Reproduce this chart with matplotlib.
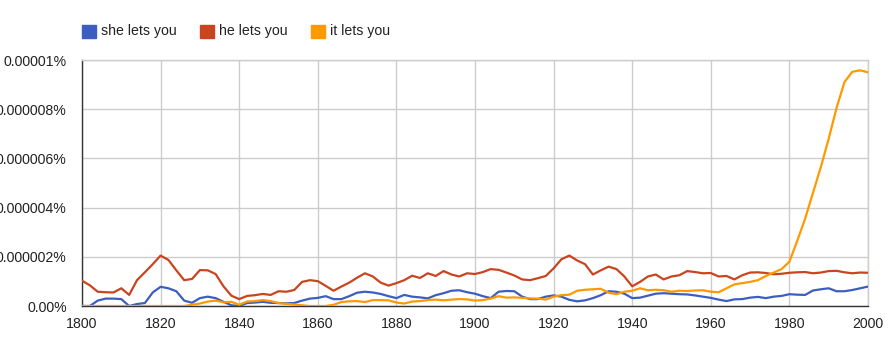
import matplotlib
matplotlib.use('Agg')
import matplotlib.pyplot as plt
from matplotlib.patches import Rectangle
import numpy as np

# values in units of 1e-6 percent, every two years 1800-2000
years = list(range(1800, 2001, 2))

she_lets_you = [
    0.00, 0.00, 0.22, 0.30, 0.30, 0.28, 0.00, 0.08, 0.12, 0.55,
    0.78, 0.72, 0.60, 0.22, 0.13, 0.32, 0.38, 0.32, 0.17, 0.03,
    0.00, 0.12, 0.14, 0.17, 0.13, 0.12, 0.11, 0.12, 0.22, 0.30,
    0.33, 0.40, 0.28, 0.28, 0.40, 0.54, 0.58, 0.55, 0.49, 0.40,
    0.32, 0.45, 0.38, 0.35, 0.31, 0.44, 0.52, 0.62, 0.64, 0.56,
    0.50, 0.40, 0.32, 0.58, 0.61, 0.60, 0.38, 0.28, 0.28, 0.38,
    0.43, 0.38, 0.25, 0.19, 0.23, 0.32, 0.44, 0.60, 0.58, 0.50,
    0.32, 0.34, 0.42, 0.50, 0.52, 0.50, 0.48, 0.47, 0.43, 0.38,
    0.33, 0.26, 0.20, 0.27, 0.28, 0.34, 0.37, 0.32, 0.38, 0.41,
    0.48, 0.46, 0.45, 0.63, 0.68, 0.72, 0.60, 0.60, 0.65, 0.72,
    0.79,
]

he_lets_you = [
    1.03, 0.84, 0.58, 0.56, 0.55, 0.72, 0.45, 1.05, 1.37, 1.70,
    2.05, 1.87, 1.45, 1.05, 1.10, 1.46, 1.45, 1.30, 0.80, 0.42,
    0.28, 0.41, 0.44, 0.49, 0.45, 0.60, 0.58, 0.65, 0.98, 1.05,
    1.01, 0.82, 0.62, 0.79, 0.95, 1.15, 1.33, 1.20, 0.95, 0.83,
    0.93, 1.05, 1.23, 1.14, 1.33, 1.22, 1.42, 1.28, 1.20, 1.33,
    1.30, 1.38, 1.50, 1.47, 1.36, 1.24, 1.08, 1.05, 1.13, 1.22,
    1.53, 1.90, 2.05, 1.85, 1.70, 1.28, 1.45, 1.60, 1.50, 1.20,
    0.80, 0.98, 1.20, 1.28, 1.08, 1.20, 1.25, 1.42, 1.38, 1.33,
    1.34, 1.20, 1.22, 1.08, 1.25, 1.36, 1.37, 1.34, 1.29, 1.31,
    1.35, 1.37, 1.38, 1.33, 1.36, 1.42, 1.43, 1.37, 1.33, 1.36,
    1.35,
]

it_lets_you = [
    0.00, 0.00, 0.00, 0.00, 0.00, 0.00, 0.00, 0.00, 0.00, 0.00,
    0.00, 0.00, 0.00, 0.00, 0.05, 0.10, 0.18, 0.22, 0.15, 0.17,
    0.05, 0.18, 0.20, 0.24, 0.20, 0.12, 0.09, 0.06, 0.03, 0.00,
    0.00, 0.00, 0.05, 0.16, 0.19, 0.20, 0.16, 0.24, 0.24, 0.23,
    0.14, 0.10, 0.18, 0.20, 0.24, 0.26, 0.23, 0.26, 0.28, 0.27,
    0.22, 0.24, 0.30, 0.40, 0.34, 0.35, 0.33, 0.31, 0.30, 0.26,
    0.38, 0.44, 0.46, 0.62, 0.66, 0.68, 0.70, 0.54, 0.48, 0.58,
    0.62, 0.72, 0.64, 0.66, 0.64, 0.58, 0.62, 0.61, 0.63, 0.64,
    0.58, 0.56, 0.72, 0.88, 0.93, 0.98, 1.05, 1.22, 1.36, 1.50,
    1.80, 2.65, 3.55, 4.60, 5.65, 6.80, 8.05, 9.10, 9.52, 9.58,
    9.50,
]

series_names = ['she lets you', 'he lets you', 'it lets you']
series_colors = ['#3B5EC0', '#C9451F', '#FF9900']

x_ticks = list(range(1800, 2001, 20))
y_ticks = [0, 2, 4, 6, 8, 10]
y_tick_labels = ['0.00%', '0.000002%', '0.000004%', '0.000006%', '0.000008%', '0.00001%']

plt.rcParams['font.family'] = ['Liberation Sans', 'DejaVu Sans']

W, H = 896, 344
fig = plt.figure(figsize=(W / 100, H / 100), dpi=100)
ax = fig.add_axes([82 / W, 1 - 306 / H, (868 - 82) / W, (306 - 60) / H])

for vals, name, col in zip([she_lets_you, he_lets_you, it_lets_you], series_names, series_colors):
    ax.plot(years, vals, color=col, lw=1.6, label=name, solid_joinstyle='round', zorder=3)

ax.set_xlim(1800, 2000)
ax.set_ylim(0, 10)
ax.set_xticks(x_ticks)
ax.set_yticks(y_ticks)
ax.set_yticklabels(y_tick_labels)
ax.grid(True, color='#cccccc', lw=1)
ax.set_axisbelow(True)
ax.tick_params(length=0, labelsize=10.2, colors='#222222')
ax.tick_params(axis='y', pad=11)
ax.tick_params(axis='x', pad=8)
for side in ['top', 'right']:
    ax.spines[side].set_color('#cccccc')
    ax.spines[side].set_linewidth(1)
for side in ['left', 'bottom']:
    ax.spines[side].set_color('#333333')
    ax.spines[side].set_linewidth(1)

# legend drawn by hand along the top
legend_x = [82, 200, 311]
for lx, name, col in zip(legend_x, series_names, series_colors):
    fig.patches.append(Rectangle((lx / W, 1 - 37.5 / H), 14 / W, 13 / H,
                                 transform=fig.transFigure, color=col))
    fig.text((lx + 19) / W, 1 - 31 / H, name, fontsize=10.2, color='#222222',
             va='center', ha='left')

fig.savefig('out.png', dpi=100)
